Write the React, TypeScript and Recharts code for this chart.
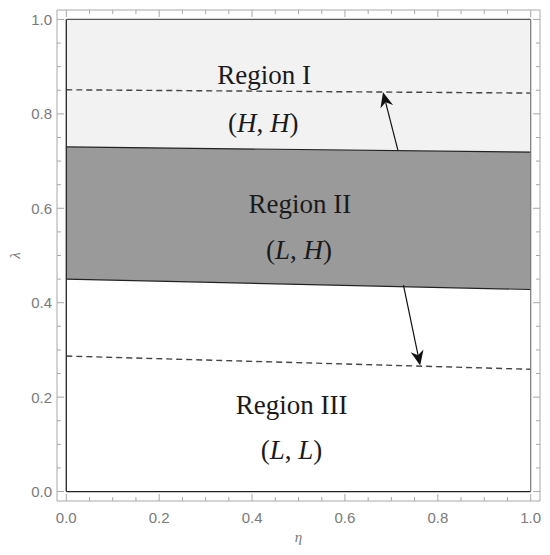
import {
  ComposedChart,
  Area,
  Line,
  XAxis,
  YAxis,
  ReferenceLine,
  ReferenceDot,
} from 'recharts';

// boundary values at eta = 0 and eta = 1
const etaValues = [0, 1];
const upperBoundary = [0.73, 0.719];
const lowerBoundary = [0.45, 0.428];
const upperDashed = [0.851, 0.844];
const lowerDashed = [0.287, 0.259];

const majorTicks = [0, 0.2, 0.4, 0.6, 0.8, 1];
const majorTickLabels = ['0.0', '0.2', '0.4', '0.6', '0.8', '1.0'];
const minorTicks = [
  0.05, 0.1, 0.15, 0.25, 0.3, 0.35, 0.45, 0.5, 0.55, 0.65, 0.7, 0.75, 0.85, 0.9, 0.95,
];

const regionNames = ['Region I', 'Region II', 'Region III'];
const regionStrategies = [
  ['H', 'H'],
  ['L', 'H'],
  ['L', 'L'],
];
const nameEta = [0.426, 0.503, 0.485];
const nameLambda = [0.863, 0.59, 0.165];
const strategyEta = [0.424, 0.501, 0.485];
const strategyLambda = [0.761, 0.492, 0.07];

const arrowStart = [
  { eta: 0.714, lambda: 0.723 },
  { eta: 0.726, lambda: 0.437 },
];
const arrowEnd = [
  { eta: 0.682, lambda: 0.846 },
  { eta: 0.762, lambda: 0.267 },
];

const data = etaValues.map((eta, i) => ({
  eta,
  upper: upperBoundary[i],
  lower: lowerBoundary[i],
  upperDash: upperDashed[i],
  lowerDash: lowerDashed[i],
  regionOne: [upperBoundary[i], 1],
  regionTwo: [lowerBoundary[i], upperBoundary[i]],
}));

const allTicks = [...majorTicks, ...minorTicks].sort((a, b) => a - b);
const domain: [number, number] = [-0.02, 1.02];
const frameColor = '#a8a8a8';
const labelColor = '#7a7a7a';
const sans = '"Liberation Sans", Arial, sans-serif';
const serif = '"Liberation Serif", "Times New Roman", serif';

const majorIndex = (v: number) => majorTicks.findIndex((m) => Math.abs(m - v) < 1e-9);

const FrameTick = (props: any) => {
  const { x, y, payload, side } = props;
  const idx = majorIndex(payload.value);
  const len = idx >= 0 ? 7 : 4;
  let x2 = x;
  let y2 = y;
  if (side === 'bottom') y2 = y - len;
  if (side === 'top') y2 = y + len;
  if (side === 'left') x2 = x + len;
  if (side === 'right') x2 = x - len;
  return (
    <g>
      <line x1={x} y1={y} x2={x2} y2={y2} stroke={frameColor} strokeWidth={1} />
      {idx >= 0 && side === 'bottom' && (
        <text x={x} y={y + 22} textAnchor="middle" fontSize={15} fontFamily={sans} fill={labelColor}>
          {majorTickLabels[idx]}
        </text>
      )}
      {idx >= 0 && side === 'left' && (
        <text x={x - 5} y={y + 5.5} textAnchor="end" fontSize={15} fontFamily={sans} fill={labelColor}>
          {majorTickLabels[idx]}
        </text>
      )}
    </g>
  );
};

const Arrow = (props: any) => {
  const { x1, y1, x2, y2 } = props;
  const dx = x2 - x1;
  const dy = y2 - y1;
  const len = Math.sqrt(dx * dx + dy * dy) || 1;
  const ux = dx / len;
  const uy = dy / len;
  const nx = -uy;
  const ny = ux;
  const head = 15;
  const half = 6.5;
  const notch = 4.5;
  const bx = x2 - ux * head;
  const by = y2 - uy * head;
  const mx = x2 - ux * (head - notch);
  const my = y2 - uy * (head - notch);
  const pts = `${x2},${y2} ${bx + nx * half},${by + ny * half} ${mx},${my} ${bx - nx * half},${by - ny * half}`;
  return (
    <g>
      <line x1={x1} y1={y1} x2={mx} y2={my} stroke="#111" strokeWidth={1.2} />
      <polygon points={pts} fill="#111" />
    </g>
  );
};

const RegionText = (props: any) => {
  const { cx, cy, name } = props;
  return (
    <text x={cx} y={cy} textAnchor="middle" fontSize={27} fontFamily={serif} fill="#1a1a1a">
      {name}
    </text>
  );
};

const StrategyText = (props: any) => {
  const { cx, cy, pair } = props;
  return (
    <text x={cx} y={cy} textAnchor="middle" fontSize={27} fontFamily={serif} fill="#1a1a1a">
      (<tspan fontStyle="italic">{pair[0]}</tspan>, <tspan fontStyle="italic">{pair[1]}</tspan>)
    </text>
  );
};

export default function App() {
  return (
    <ComposedChart width={542} height={539} data={data} margin={{ top: 0, right: 0, bottom: 0, left: 0 }}>
      <XAxis
        type="number"
        dataKey="eta"
        domain={domain}
        allowDataOverflow
        ticks={allTicks}
        interval={0}
        height={46}
        tickSize={0}
        tickMargin={0}
        tickLine={false}
        axisLine={{ stroke: frameColor }}
        tick={(p: any) => <FrameTick {...p} side="bottom" />}
        label={{
          content: (p: any) => {
            const vb = p.viewBox;
            return (
              <text
                x={vb.x + vb.width / 2}
                y={vb.y + 41}
                textAnchor="middle"
                fontSize={15}
                fontStyle="italic"
                fontFamily={serif}
                fill={labelColor}
              >
                η
              </text>
            );
          },
        }}
      />
      <XAxis
        xAxisId="top"
        orientation="top"
        type="number"
        dataKey="eta"
        domain={domain}
        allowDataOverflow
        ticks={allTicks}
        interval={0}
        height={2}
        tickSize={0}
        tickMargin={0}
        tickLine={false}
        axisLine={{ stroke: frameColor }}
        tick={(p: any) => <FrameTick {...p} side="top" />}
      />
      <YAxis
        type="number"
        domain={domain}
        allowDataOverflow
        ticks={allTicks}
        interval={0}
        width={49}
        tickSize={0}
        tickMargin={0}
        tickLine={false}
        axisLine={{ stroke: frameColor }}
        tick={(p: any) => <FrameTick {...p} side="left" />}
        label={{
          content: (p: any) => {
            const vb = p.viewBox;
            const lx = vb.x + 12;
            const ly = vb.y + vb.height / 2;
            return (
              <text
                x={lx}
                y={ly}
                transform={`rotate(-90, ${lx}, ${ly})`}
                textAnchor="middle"
                fontSize={15}
                fontStyle="italic"
                fontFamily={serif}
                fill={labelColor}
              >
                λ
              </text>
            );
          },
        }}
      />
      <YAxis
        yAxisId="right"
        orientation="right"
        type="number"
        domain={domain}
        allowDataOverflow
        ticks={allTicks}
        interval={0}
        width={10}
        tickSize={0}
        tickMargin={0}
        tickLine={false}
        axisLine={{ stroke: frameColor }}
        tick={(p: any) => <FrameTick {...p} side="right" />}
      />

      <Area
        dataKey="regionOne"
        type="linear"
        stroke="none"
        fill="#f2f2f2"
        fillOpacity={1}
        dot={false}
        activeDot={false}
        isAnimationActive={false}
      />
      <Area
        dataKey="regionTwo"
        type="linear"
        stroke="none"
        fill="#9a9a9a"
        fillOpacity={1}
        dot={false}
        activeDot={false}
        isAnimationActive={false}
      />
      <Line
        dataKey="upperDash"
        type="linear"
        stroke="#444"
        strokeWidth={1.4}
        strokeDasharray="6 4"
        dot={false}
        activeDot={false}
        isAnimationActive={false}
      />
      <Line
        dataKey="lowerDash"
        type="linear"
        stroke="#444"
        strokeWidth={1.4}
        strokeDasharray="6 4"
        dot={false}
        activeDot={false}
        isAnimationActive={false}
      />
      <Line
        dataKey="upper"
        type="linear"
        stroke="#222"
        strokeWidth={1.2}
        dot={false}
        activeDot={false}
        isAnimationActive={false}
      />
      <Line
        dataKey="lower"
        type="linear"
        stroke="#222"
        strokeWidth={1.2}
        dot={false}
        activeDot={false}
        isAnimationActive={false}
      />

      <ReferenceLine segment={[{ x: 0, y: 0 }, { x: 0, y: 1 }]} stroke="#222" strokeWidth={1.3} />
      <ReferenceLine segment={[{ x: 0, y: 0 }, { x: 1, y: 0 }]} stroke="#222" strokeWidth={1.3} />
      <ReferenceLine segment={[{ x: 0, y: 1 }, { x: 1, y: 1 }]} stroke="#555" strokeWidth={1.2} />
      <ReferenceLine segment={[{ x: 1, y: 0 }, { x: 1, y: 1 }]} stroke="#777" strokeWidth={1.2} />

      {arrowStart.map((s, i) => (
        <ReferenceLine
          key={`arrow-${i}`}
          segment={[
            { x: s.eta, y: s.lambda },
            { x: arrowEnd[i].eta, y: arrowEnd[i].lambda },
          ]}
          shape={(p: any) => <Arrow {...p} />}
        />
      ))}

      {regionNames.map((name, i) => (
        <ReferenceDot
          key={`name-${i}`}
          x={nameEta[i]}
          y={nameLambda[i]}
          r={0}
          shape={(p: any) => <RegionText {...p} name={name} />}
        />
      ))}
      {regionStrategies.map((pair, i) => (
        <ReferenceDot
          key={`pair-${i}`}
          x={strategyEta[i]}
          y={strategyLambda[i]}
          r={0}
          shape={(p: any) => <StrategyText {...p} pair={pair} />}
        />
      ))}
    </ComposedChart>
  );
}
